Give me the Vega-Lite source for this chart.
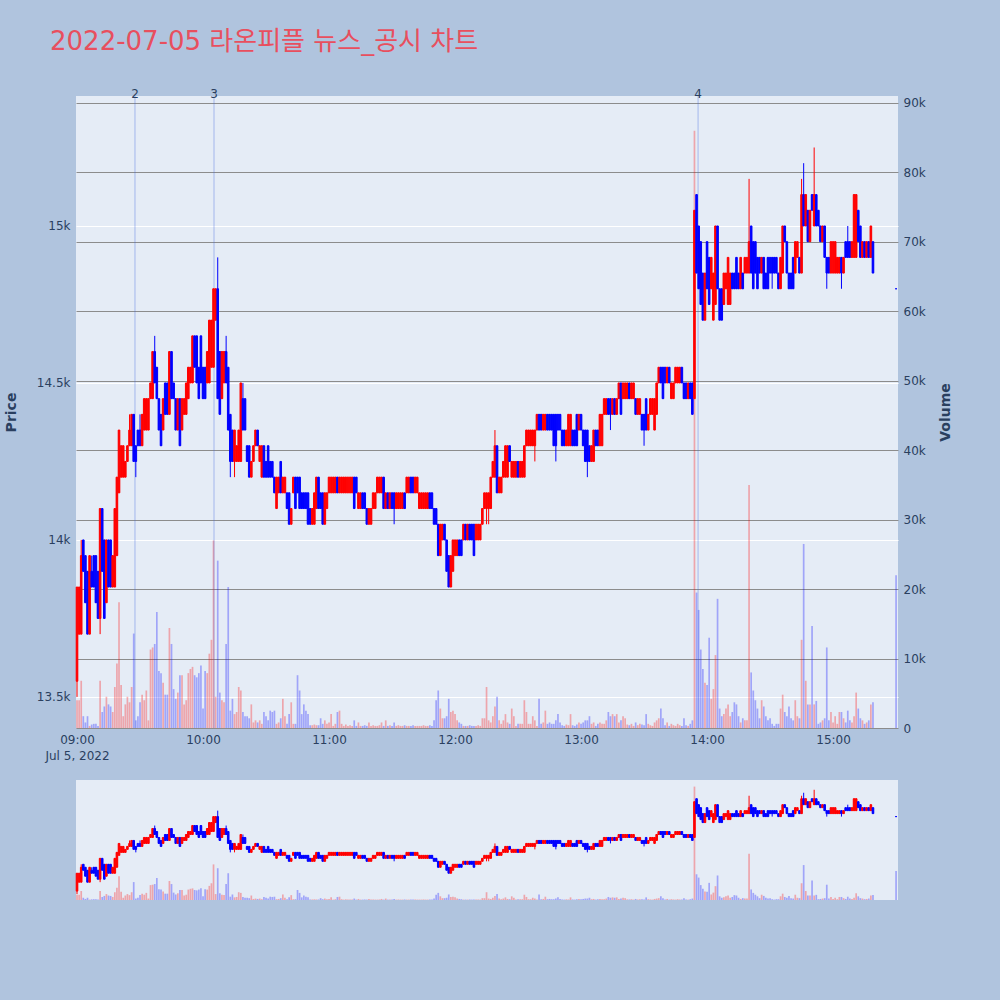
{
"$schema":"https://vega.github.io/schema/vega-lite/v6.json",
"background":"#b0c4de",
"padding":{"left":4,"top":29,"right":56,"bottom":108},
"title":{"text":"2022-07-05 라온피플 뉴스_공시 차트","anchor":"start","frame":"group","font":"DejaVu Sans, Noto Sans CJK KR","fontSize":26,"fontWeight":"normal","color":"#e84f5e","offset":33,"dx":-26},
"config":{"view":{"stroke":null},"axis":{"domain":false,"ticks":false,"labelFont":"DejaVu Sans","labelFontSize":12,"labelColor":"#2a3f5f","titleFont":"DejaVu Sans","titleFontSize":14,"titleFontWeight":"bold","titleColor":"#2a3f5f"}},
"datasets":{
"news":[{"t":"2022-07-05T09:27:36","label":"2"},{"t":"2022-07-05T10:05:14","label":"3"},{"t":"2022-07-05T13:55:43","label":"4"}],
"candles":[
{"t":"2022-07-05T09:00","o":13550,"h":13850,"l":13500,"c":13850,"v":4000},
{"t":"2022-07-05T09:01","o":13700,"h":13850,"l":13700,"c":13850,"v":4000},
{"t":"2022-07-05T09:02","o":13700,"h":14000,"l":13700,"c":13950,"v":6800},
{"t":"2022-07-05T09:03","o":14000,"h":14000,"l":13900,"c":13900,"v":1700},
{"t":"2022-07-05T09:04","o":13950,"h":13950,"l":13800,"c":13800,"v":800},
{"t":"2022-07-05T09:05","o":13900,"h":13900,"l":13700,"c":13700,"v":1700},
{"t":"2022-07-05T09:06","o":13700,"h":13950,"l":13700,"c":13950,"v":300},
{"t":"2022-07-05T09:07","o":13900,"h":13950,"l":13850,"c":13850,"v":500},
{"t":"2022-07-05T09:08","o":13950,"h":13950,"l":13850,"c":13850,"v":600},
{"t":"2022-07-05T09:09","o":13950,"h":13950,"l":13800,"c":13800,"v":600},
{"t":"2022-07-05T09:10","o":13900,"h":13900,"l":13750,"c":13750,"v":300},
{"t":"2022-07-05T09:11","o":13750,"h":14100,"l":13700,"c":14100,"v":6800},
{"t":"2022-07-05T09:12","o":14100,"h":14100,"l":13900,"c":13900,"v":2300},
{"t":"2022-07-05T09:13","o":14000,"h":14000,"l":13750,"c":13750,"v":3100},
{"t":"2022-07-05T09:14","o":13800,"h":14000,"l":13800,"c":14000,"v":4500},
{"t":"2022-07-05T09:15","o":14000,"h":14000,"l":13850,"c":13850,"v":3400},
{"t":"2022-07-05T09:16","o":14000,"h":14000,"l":13850,"c":13850,"v":3100},
{"t":"2022-07-05T09:17","o":13850,"h":13950,"l":13850,"c":13950,"v":2300},
{"t":"2022-07-05T09:18","o":13850,"h":14100,"l":13850,"c":14100,"v":5900},
{"t":"2022-07-05T09:19","o":13950,"h":14200,"l":13950,"c":14200,"v":9300},
{"t":"2022-07-05T09:20","o":14150,"h":14350,"l":14150,"c":14350,"v":18100},
{"t":"2022-07-05T09:21","o":14200,"h":14300,"l":14200,"c":14300,"v":6200},
{"t":"2022-07-05T09:22","o":14200,"h":14300,"l":14200,"c":14300,"v":1700},
{"t":"2022-07-05T09:23","o":14200,"h":14250,"l":14200,"c":14250,"v":3400},
{"t":"2022-07-05T09:24","o":14250,"h":14300,"l":14250,"c":14300,"v":4500},
{"t":"2022-07-05T09:25","o":14300,"h":14400,"l":14300,"c":14350,"v":3700},
{"t":"2022-07-05T09:26","o":14300,"h":14400,"l":14300,"c":14400,"v":5900},
{"t":"2022-07-05T09:27","o":14400,"h":14400,"l":14250,"c":14250,"v":13600},
{"t":"2022-07-05T09:28","o":14300,"h":14300,"l":14200,"c":14250,"v":1100},
{"t":"2022-07-05T09:29","o":14350,"h":14350,"l":14300,"c":14300,"v":1700},
{"t":"2022-07-05T09:30","o":14350,"h":14400,"l":14300,"c":14300,"v":3700},
{"t":"2022-07-05T09:31","o":14300,"h":14400,"l":14300,"c":14400,"v":4800},
{"t":"2022-07-05T09:32","o":14350,"h":14450,"l":14350,"c":14450,"v":4000},
{"t":"2022-07-05T09:33","o":14350,"h":14450,"l":14350,"c":14450,"v":5400},
{"t":"2022-07-05T09:34","o":14350,"h":14450,"l":14350,"c":14450,"v":1100},
{"t":"2022-07-05T09:35","o":14450,"h":14500,"l":14450,"c":14500,"v":11300},
{"t":"2022-07-05T09:36","o":14450,"h":14600,"l":14450,"c":14600,"v":11600},
{"t":"2022-07-05T09:37","o":14600,"h":14650,"l":14500,"c":14500,"v":12100},
{"t":"2022-07-05T09:38","o":14550,"h":14550,"l":14450,"c":14450,"v":16700},
{"t":"2022-07-05T09:39","o":14450,"h":14450,"l":14350,"c":14350,"v":8200},
{"t":"2022-07-05T09:40","o":14400,"h":14400,"l":14300,"c":14300,"v":7900},
{"t":"2022-07-05T09:41","o":14350,"h":14450,"l":14350,"c":14450,"v":6500},
{"t":"2022-07-05T09:42","o":14500,"h":14500,"l":14400,"c":14400,"v":4800},
{"t":"2022-07-05T09:43","o":14500,"h":14500,"l":14400,"c":14400,"v":4800},
{"t":"2022-07-05T09:44","o":14400,"h":14600,"l":14400,"c":14600,"v":14400},
{"t":"2022-07-05T09:45","o":14600,"h":14600,"l":14450,"c":14450,"v":12100},
{"t":"2022-07-05T09:46","o":14500,"h":14500,"l":14450,"c":14450,"v":5600},
{"t":"2022-07-05T09:47","o":14450,"h":14450,"l":14350,"c":14350,"v":4200},
{"t":"2022-07-05T09:48","o":14350,"h":14450,"l":14350,"c":14450,"v":5100},
{"t":"2022-07-05T09:49","o":14450,"h":14450,"l":14300,"c":14300,"v":7600},
{"t":"2022-07-05T09:50","o":14350,"h":14450,"l":14350,"c":14450,"v":7600},
{"t":"2022-07-05T09:51","o":14400,"h":14450,"l":14400,"c":14450,"v":3400},
{"t":"2022-07-05T09:52","o":14400,"h":14500,"l":14400,"c":14500,"v":4000},
{"t":"2022-07-05T09:53","o":14450,"h":14550,"l":14450,"c":14550,"v":7900},
{"t":"2022-07-05T09:54","o":14500,"h":14550,"l":14500,"c":14550,"v":8500},
{"t":"2022-07-05T09:55","o":14500,"h":14650,"l":14500,"c":14650,"v":8800},
{"t":"2022-07-05T09:56","o":14650,"h":14650,"l":14550,"c":14550,"v":7600},
{"t":"2022-07-05T09:57","o":14650,"h":14650,"l":14500,"c":14500,"v":7300},
{"t":"2022-07-05T09:58","o":14550,"h":14550,"l":14450,"c":14450,"v":7900},
{"t":"2022-07-05T09:59","o":14650,"h":14650,"l":14500,"c":14500,"v":9000},
{"t":"2022-07-05T10:00","o":14550,"h":14550,"l":14450,"c":14450,"v":2800},
{"t":"2022-07-05T10:01","o":14550,"h":14550,"l":14450,"c":14450,"v":8200},
{"t":"2022-07-05T10:02","o":14500,"h":14600,"l":14500,"c":14600,"v":7900},
{"t":"2022-07-05T10:03","o":14500,"h":14700,"l":14500,"c":14700,"v":10700},
{"t":"2022-07-05T10:04","o":14550,"h":14700,"l":14550,"c":14700,"v":12700},
{"t":"2022-07-05T10:05","o":14550,"h":14800,"l":14550,"c":14800,"v":27000},
{"t":"2022-07-05T10:06","o":14700,"h":14800,"l":14700,"c":14800,"v":4500},
{"t":"2022-07-05T10:07","o":14800,"h":14900,"l":14450,"c":14450,"v":24100},
{"t":"2022-07-05T10:08","o":14600,"h":14600,"l":14400,"c":14400,"v":5100},
{"t":"2022-07-05T10:09","o":14450,"h":14600,"l":14450,"c":14600,"v":4000},
{"t":"2022-07-05T10:10","o":14500,"h":14600,"l":14500,"c":14600,"v":3700},
{"t":"2022-07-05T10:11","o":14600,"h":14650,"l":14500,"c":14500,"v":12100},
{"t":"2022-07-05T10:12","o":14550,"h":14550,"l":14350,"c":14350,"v":20300},
{"t":"2022-07-05T10:13","o":14400,"h":14400,"l":14200,"c":14250,"v":2500},
{"t":"2022-07-05T10:14","o":14350,"h":14350,"l":14250,"c":14250,"v":4200},
{"t":"2022-07-05T10:15","o":14250,"h":14350,"l":14200,"c":14350,"v":2000},
{"t":"2022-07-05T10:16","o":14250,"h":14300,"l":14250,"c":14300,"v":2300},
{"t":"2022-07-05T10:17","o":14250,"h":14350,"l":14250,"c":14350,"v":5900},
{"t":"2022-07-05T10:18","o":14250,"h":14500,"l":14250,"c":14500,"v":5400},
{"t":"2022-07-05T10:19","o":14450,"h":14500,"l":14350,"c":14350,"v":2300},
{"t":"2022-07-05T10:20","o":14450,"h":14450,"l":14350,"c":14350,"v":1700},
{"t":"2022-07-05T10:21","o":14300,"h":14300,"l":14250,"c":14250,"v":1700},
{"t":"2022-07-05T10:22","o":14300,"h":14300,"l":14200,"c":14200,"v":1400},
{"t":"2022-07-05T10:23","o":14200,"h":14250,"l":14200,"c":14250,"v":3400},
{"t":"2022-07-05T10:24","o":14250,"h":14300,"l":14250,"c":14300,"v":800},
{"t":"2022-07-05T10:25","o":14300,"h":14350,"l":14300,"c":14350,"v":1100},
{"t":"2022-07-05T10:26","o":14350,"h":14350,"l":14300,"c":14300,"v":800},
{"t":"2022-07-05T10:27","o":14250,"h":14300,"l":14250,"c":14300,"v":1100},
{"t":"2022-07-05T10:28","o":14200,"h":14300,"l":14200,"c":14300,"v":600},
{"t":"2022-07-05T10:29","o":14300,"h":14300,"l":14200,"c":14200,"v":2300},
{"t":"2022-07-05T10:30","o":14250,"h":14250,"l":14200,"c":14200,"v":1700},
{"t":"2022-07-05T10:31","o":14300,"h":14300,"l":14200,"c":14200,"v":1100},
{"t":"2022-07-05T10:32","o":14250,"h":14250,"l":14200,"c":14200,"v":2500},
{"t":"2022-07-05T10:33","o":14250,"h":14250,"l":14200,"c":14200,"v":2300},
{"t":"2022-07-05T10:34","o":14200,"h":14200,"l":14150,"c":14150,"v":2500},
{"t":"2022-07-05T10:35","o":14100,"h":14200,"l":14100,"c":14200,"v":600},
{"t":"2022-07-05T10:36","o":14150,"h":14200,"l":14150,"c":14200,"v":800},
{"t":"2022-07-05T10:37","o":14250,"h":14250,"l":14150,"c":14150,"v":1400},
{"t":"2022-07-05T10:38","o":14150,"h":14200,"l":14150,"c":14200,"v":4200},
{"t":"2022-07-05T10:39","o":14150,"h":14200,"l":14150,"c":14200,"v":1700},
{"t":"2022-07-05T10:40","o":14150,"h":14150,"l":14100,"c":14100,"v":600},
{"t":"2022-07-05T10:41","o":14150,"h":14150,"l":14050,"c":14050,"v":2000},
{"t":"2022-07-05T10:42","o":14050,"h":14100,"l":14050,"c":14100,"v":3700},
{"t":"2022-07-05T10:43","o":14150,"h":14200,"l":14150,"c":14200,"v":600},
{"t":"2022-07-05T10:44","o":14200,"h":14200,"l":14100,"c":14100,"v":600},
{"t":"2022-07-05T10:45","o":14200,"h":14200,"l":14150,"c":14150,"v":7600},
{"t":"2022-07-05T10:46","o":14200,"h":14200,"l":14100,"c":14100,"v":5400},
{"t":"2022-07-05T10:47","o":14150,"h":14150,"l":14100,"c":14100,"v":2000},
{"t":"2022-07-05T10:48","o":14150,"h":14150,"l":14100,"c":14100,"v":3400},
{"t":"2022-07-05T10:49","o":14150,"h":14150,"l":14100,"c":14100,"v":2500},
{"t":"2022-07-05T10:50","o":14150,"h":14150,"l":14050,"c":14050,"v":2000},
{"t":"2022-07-05T10:51","o":14100,"h":14100,"l":14050,"c":14050,"v":400},
{"t":"2022-07-05T10:52","o":14050,"h":14100,"l":14050,"c":14100,"v":400},
{"t":"2022-07-05T10:53","o":14050,"h":14150,"l":14050,"c":14150,"v":500},
{"t":"2022-07-05T10:54","o":14100,"h":14200,"l":14100,"c":14200,"v":400},
{"t":"2022-07-05T10:55","o":14200,"h":14200,"l":14100,"c":14100,"v":400},
{"t":"2022-07-05T10:56","o":14150,"h":14150,"l":14100,"c":14100,"v":1400},
{"t":"2022-07-05T10:57","o":14150,"h":14150,"l":14050,"c":14050,"v":600},
{"t":"2022-07-05T10:58","o":14050,"h":14150,"l":14050,"c":14150,"v":1100},
{"t":"2022-07-05T10:59","o":14100,"h":14150,"l":14100,"c":14150,"v":600},
{"t":"2022-07-05T11:00","o":14150,"h":14200,"l":14150,"c":14200,"v":800},
{"t":"2022-07-05T11:01","o":14150,"h":14200,"l":14150,"c":14200,"v":2000},
{"t":"2022-07-05T11:02","o":14150,"h":14200,"l":14150,"c":14200,"v":300},
{"t":"2022-07-05T11:03","o":14150,"h":14200,"l":14150,"c":14200,"v":600},
{"t":"2022-07-05T11:04","o":14200,"h":14200,"l":14150,"c":14150,"v":2300},
{"t":"2022-07-05T11:05","o":14150,"h":14200,"l":14150,"c":14200,"v":2500},
{"t":"2022-07-05T11:06","o":14150,"h":14200,"l":14150,"c":14200,"v":600},
{"t":"2022-07-05T11:07","o":14150,"h":14200,"l":14150,"c":14200,"v":300},
{"t":"2022-07-05T11:08","o":14150,"h":14200,"l":14150,"c":14200,"v":500},
{"t":"2022-07-05T11:09","o":14150,"h":14200,"l":14150,"c":14200,"v":300},
{"t":"2022-07-05T11:10","o":14150,"h":14200,"l":14150,"c":14200,"v":400},
{"t":"2022-07-05T11:11","o":14150,"h":14200,"l":14150,"c":14200,"v":300},
{"t":"2022-07-05T11:12","o":14200,"h":14200,"l":14100,"c":14100,"v":1100},
{"t":"2022-07-05T11:13","o":14200,"h":14200,"l":14150,"c":14150,"v":300},
{"t":"2022-07-05T11:14","o":14100,"h":14150,"l":14100,"c":14150,"v":800},
{"t":"2022-07-05T11:15","o":14100,"h":14150,"l":14100,"c":14150,"v":300},
{"t":"2022-07-05T11:16","o":14150,"h":14150,"l":14100,"c":14100,"v":300},
{"t":"2022-07-05T11:17","o":14150,"h":14150,"l":14100,"c":14100,"v":400},
{"t":"2022-07-05T11:18","o":14100,"h":14100,"l":14050,"c":14050,"v":300},
{"t":"2022-07-05T11:19","o":14050,"h":14100,"l":14050,"c":14100,"v":800},
{"t":"2022-07-05T11:20","o":14050,"h":14100,"l":14050,"c":14100,"v":300},
{"t":"2022-07-05T11:21","o":14100,"h":14150,"l":14100,"c":14150,"v":400},
{"t":"2022-07-05T11:22","o":14100,"h":14150,"l":14100,"c":14150,"v":300},
{"t":"2022-07-05T11:23","o":14150,"h":14200,"l":14150,"c":14200,"v":300},
{"t":"2022-07-05T11:24","o":14150,"h":14200,"l":14150,"c":14200,"v":400},
{"t":"2022-07-05T11:25","o":14150,"h":14200,"l":14150,"c":14200,"v":800},
{"t":"2022-07-05T11:26","o":14200,"h":14200,"l":14100,"c":14100,"v":300},
{"t":"2022-07-05T11:27","o":14100,"h":14150,"l":14100,"c":14150,"v":1100},
{"t":"2022-07-05T11:28","o":14150,"h":14150,"l":14100,"c":14100,"v":300},
{"t":"2022-07-05T11:29","o":14100,"h":14150,"l":14100,"c":14150,"v":400},
{"t":"2022-07-05T11:30","o":14150,"h":14150,"l":14100,"c":14100,"v":300},
{"t":"2022-07-05T11:31","o":14150,"h":14150,"l":14050,"c":14100,"v":800},
{"t":"2022-07-05T11:32","o":14100,"h":14150,"l":14100,"c":14150,"v":300},
{"t":"2022-07-05T11:33","o":14100,"h":14150,"l":14100,"c":14150,"v":400},
{"t":"2022-07-05T11:34","o":14100,"h":14150,"l":14100,"c":14150,"v":300},
{"t":"2022-07-05T11:35","o":14100,"h":14150,"l":14100,"c":14150,"v":300},
{"t":"2022-07-05T11:36","o":14150,"h":14150,"l":14100,"c":14100,"v":400},
{"t":"2022-07-05T11:37","o":14150,"h":14200,"l":14150,"c":14200,"v":300},
{"t":"2022-07-05T11:38","o":14150,"h":14200,"l":14150,"c":14200,"v":300},
{"t":"2022-07-05T11:39","o":14200,"h":14200,"l":14150,"c":14150,"v":300},
{"t":"2022-07-05T11:40","o":14200,"h":14200,"l":14150,"c":14150,"v":400},
{"t":"2022-07-05T11:41","o":14150,"h":14200,"l":14150,"c":14200,"v":300},
{"t":"2022-07-05T11:42","o":14150,"h":14200,"l":14150,"c":14200,"v":300},
{"t":"2022-07-05T11:43","o":14100,"h":14150,"l":14100,"c":14150,"v":300},
{"t":"2022-07-05T11:44","o":14100,"h":14150,"l":14100,"c":14150,"v":300},
{"t":"2022-07-05T11:45","o":14100,"h":14150,"l":14100,"c":14150,"v":400},
{"t":"2022-07-05T11:46","o":14100,"h":14150,"l":14100,"c":14150,"v":300},
{"t":"2022-07-05T11:47","o":14100,"h":14150,"l":14100,"c":14150,"v":300},
{"t":"2022-07-05T11:48","o":14150,"h":14150,"l":14100,"c":14100,"v":400},
{"t":"2022-07-05T11:49","o":14150,"h":14150,"l":14100,"c":14100,"v":300},
{"t":"2022-07-05T11:50","o":14100,"h":14100,"l":14050,"c":14050,"v":1100},
{"t":"2022-07-05T11:51","o":14100,"h":14100,"l":14050,"c":14050,"v":4000},
{"t":"2022-07-05T11:52","o":14050,"h":14050,"l":13950,"c":13950,"v":5400},
{"t":"2022-07-05T11:53","o":13950,"h":14050,"l":13950,"c":14050,"v":2800},
{"t":"2022-07-05T11:54","o":14000,"h":14050,"l":14000,"c":14050,"v":1400},
{"t":"2022-07-05T11:55","o":14050,"h":14050,"l":14000,"c":14000,"v":1400},
{"t":"2022-07-05T11:56","o":14000,"h":14000,"l":13900,"c":13900,"v":1700},
{"t":"2022-07-05T11:57","o":13950,"h":13950,"l":13850,"c":13850,"v":4200},
{"t":"2022-07-05T11:58","o":13850,"h":13950,"l":13850,"c":13950,"v":2300},
{"t":"2022-07-05T11:59","o":13900,"h":14000,"l":13900,"c":14000,"v":2500},
{"t":"2022-07-05T12:00","o":13950,"h":14000,"l":13950,"c":14000,"v":2000},
{"t":"2022-07-05T12:01","o":13950,"h":14000,"l":13950,"c":14000,"v":1100},
{"t":"2022-07-05T12:02","o":14000,"h":14000,"l":13950,"c":13950,"v":800},
{"t":"2022-07-05T12:03","o":14000,"h":14000,"l":13950,"c":13950,"v":600},
{"t":"2022-07-05T12:04","o":14000,"h":14050,"l":14000,"c":14050,"v":300},
{"t":"2022-07-05T12:05","o":14050,"h":14050,"l":14000,"c":14000,"v":300},
{"t":"2022-07-05T12:06","o":14000,"h":14050,"l":14000,"c":14050,"v":300},
{"t":"2022-07-05T12:07","o":14050,"h":14050,"l":14000,"c":14000,"v":400},
{"t":"2022-07-05T12:08","o":14050,"h":14050,"l":14000,"c":14000,"v":300},
{"t":"2022-07-05T12:09","o":14050,"h":14050,"l":13950,"c":13950,"v":300},
{"t":"2022-07-05T12:10","o":14000,"h":14050,"l":14000,"c":14050,"v":300},
{"t":"2022-07-05T12:11","o":14000,"h":14050,"l":14000,"c":14050,"v":400},
{"t":"2022-07-05T12:12","o":14000,"h":14050,"l":14000,"c":14050,"v":300},
{"t":"2022-07-05T12:13","o":14050,"h":14100,"l":14050,"c":14100,"v":1400},
{"t":"2022-07-05T12:14","o":14100,"h":14150,"l":14100,"c":14150,"v":1400},
{"t":"2022-07-05T12:15","o":14100,"h":14150,"l":14050,"c":14150,"v":5900},
{"t":"2022-07-05T12:16","o":14100,"h":14150,"l":14050,"c":14150,"v":1100},
{"t":"2022-07-05T12:17","o":14100,"h":14200,"l":14100,"c":14200,"v":800},
{"t":"2022-07-05T12:18","o":14200,"h":14250,"l":14200,"c":14250,"v":1700},
{"t":"2022-07-05T12:19","o":14200,"h":14350,"l":14200,"c":14300,"v":3100},
{"t":"2022-07-05T12:20","o":14300,"h":14300,"l":14150,"c":14150,"v":4500},
{"t":"2022-07-05T12:21","o":14150,"h":14200,"l":14150,"c":14200,"v":1100},
{"t":"2022-07-05T12:22","o":14150,"h":14200,"l":14150,"c":14200,"v":600},
{"t":"2022-07-05T12:23","o":14200,"h":14250,"l":14200,"c":14250,"v":1100},
{"t":"2022-07-05T12:24","o":14200,"h":14300,"l":14200,"c":14300,"v":2000},
{"t":"2022-07-05T12:25","o":14200,"h":14300,"l":14200,"c":14300,"v":800},
{"t":"2022-07-05T12:26","o":14300,"h":14300,"l":14250,"c":14250,"v":600},
{"t":"2022-07-05T12:27","o":14200,"h":14250,"l":14200,"c":14250,"v":2800},
{"t":"2022-07-05T12:28","o":14200,"h":14250,"l":14200,"c":14250,"v":1700},
{"t":"2022-07-05T12:29","o":14200,"h":14250,"l":14200,"c":14250,"v":300},
{"t":"2022-07-05T12:30","o":14250,"h":14250,"l":14200,"c":14200,"v":600},
{"t":"2022-07-05T12:31","o":14200,"h":14250,"l":14200,"c":14250,"v":600},
{"t":"2022-07-05T12:32","o":14200,"h":14250,"l":14200,"c":14250,"v":600},
{"t":"2022-07-05T12:33","o":14200,"h":14300,"l":14200,"c":14300,"v":4000},
{"t":"2022-07-05T12:34","o":14300,"h":14350,"l":14300,"c":14350,"v":2300},
{"t":"2022-07-05T12:35","o":14300,"h":14350,"l":14300,"c":14350,"v":600},
{"t":"2022-07-05T12:36","o":14300,"h":14350,"l":14300,"c":14350,"v":600},
{"t":"2022-07-05T12:37","o":14300,"h":14350,"l":14300,"c":14350,"v":1700},
{"t":"2022-07-05T12:38","o":14300,"h":14350,"l":14250,"c":14350,"v":1100},
{"t":"2022-07-05T12:39","o":14350,"h":14400,"l":14350,"c":14400,"v":300},
{"t":"2022-07-05T12:40","o":14400,"h":14400,"l":14350,"c":14350,"v":4200},
{"t":"2022-07-05T12:41","o":14400,"h":14400,"l":14350,"c":14350,"v":600},
{"t":"2022-07-05T12:42","o":14350,"h":14400,"l":14350,"c":14400,"v":800},
{"t":"2022-07-05T12:43","o":14350,"h":14400,"l":14350,"c":14400,"v":2500},
{"t":"2022-07-05T12:44","o":14400,"h":14400,"l":14350,"c":14350,"v":600},
{"t":"2022-07-05T12:45","o":14400,"h":14400,"l":14350,"c":14350,"v":800},
{"t":"2022-07-05T12:46","o":14400,"h":14400,"l":14350,"c":14350,"v":600},
{"t":"2022-07-05T12:47","o":14400,"h":14400,"l":14300,"c":14300,"v":600},
{"t":"2022-07-05T12:48","o":14400,"h":14400,"l":14250,"c":14300,"v":1100},
{"t":"2022-07-05T12:49","o":14400,"h":14400,"l":14350,"c":14350,"v":2000},
{"t":"2022-07-05T12:50","o":14400,"h":14400,"l":14350,"c":14350,"v":800},
{"t":"2022-07-05T12:51","o":14350,"h":14350,"l":14300,"c":14300,"v":400},
{"t":"2022-07-05T12:52","o":14350,"h":14350,"l":14300,"c":14300,"v":300},
{"t":"2022-07-05T12:53","o":14300,"h":14350,"l":14300,"c":14350,"v":500},
{"t":"2022-07-05T12:54","o":14300,"h":14400,"l":14300,"c":14400,"v":400},
{"t":"2022-07-05T12:55","o":14300,"h":14400,"l":14300,"c":14400,"v":2000},
{"t":"2022-07-05T12:56","o":14350,"h":14350,"l":14300,"c":14300,"v":400},
{"t":"2022-07-05T12:57","o":14350,"h":14350,"l":14300,"c":14300,"v":300},
{"t":"2022-07-05T12:58","o":14400,"h":14400,"l":14300,"c":14300,"v":500},
{"t":"2022-07-05T12:59","o":14350,"h":14400,"l":14350,"c":14400,"v":800},
{"t":"2022-07-05T13:00","o":14400,"h":14400,"l":14350,"c":14350,"v":600},
{"t":"2022-07-05T13:01","o":14350,"h":14350,"l":14300,"c":14300,"v":800},
{"t":"2022-07-05T13:02","o":14350,"h":14350,"l":14250,"c":14250,"v":1100},
{"t":"2022-07-05T13:03","o":14350,"h":14350,"l":14200,"c":14250,"v":1100},
{"t":"2022-07-05T13:04","o":14300,"h":14300,"l":14250,"c":14250,"v":1700},
{"t":"2022-07-05T13:05","o":14250,"h":14300,"l":14250,"c":14300,"v":600},
{"t":"2022-07-05T13:06","o":14250,"h":14350,"l":14250,"c":14350,"v":800},
{"t":"2022-07-05T13:07","o":14350,"h":14350,"l":14300,"c":14300,"v":300},
{"t":"2022-07-05T13:08","o":14350,"h":14350,"l":14300,"c":14300,"v":600},
{"t":"2022-07-05T13:09","o":14300,"h":14400,"l":14300,"c":14400,"v":800},
{"t":"2022-07-05T13:10","o":14300,"h":14400,"l":14300,"c":14400,"v":600},
{"t":"2022-07-05T13:11","o":14400,"h":14450,"l":14400,"c":14450,"v":600},
{"t":"2022-07-05T13:12","o":14400,"h":14450,"l":14400,"c":14450,"v":1100},
{"t":"2022-07-05T13:13","o":14450,"h":14450,"l":14400,"c":14400,"v":2300},
{"t":"2022-07-05T13:14","o":14450,"h":14450,"l":14350,"c":14400,"v":1700},
{"t":"2022-07-05T13:15","o":14400,"h":14450,"l":14400,"c":14450,"v":2000},
{"t":"2022-07-05T13:16","o":14450,"h":14450,"l":14400,"c":14400,"v":1700},
{"t":"2022-07-05T13:17","o":14400,"h":14450,"l":14400,"c":14450,"v":2000},
{"t":"2022-07-05T13:18","o":14450,"h":14500,"l":14450,"c":14500,"v":800},
{"t":"2022-07-05T13:19","o":14500,"h":14500,"l":14400,"c":14400,"v":1100},
{"t":"2022-07-05T13:20","o":14450,"h":14500,"l":14450,"c":14500,"v":1700},
{"t":"2022-07-05T13:21","o":14450,"h":14500,"l":14450,"c":14500,"v":1400},
{"t":"2022-07-05T13:22","o":14450,"h":14500,"l":14450,"c":14500,"v":500},
{"t":"2022-07-05T13:23","o":14500,"h":14500,"l":14450,"c":14450,"v":400},
{"t":"2022-07-05T13:24","o":14450,"h":14500,"l":14450,"c":14500,"v":600},
{"t":"2022-07-05T13:25","o":14450,"h":14500,"l":14450,"c":14500,"v":300},
{"t":"2022-07-05T13:26","o":14450,"h":14450,"l":14400,"c":14400,"v":800},
{"t":"2022-07-05T13:27","o":14400,"h":14450,"l":14400,"c":14450,"v":400},
{"t":"2022-07-05T13:28","o":14400,"h":14450,"l":14400,"c":14450,"v":600},
{"t":"2022-07-05T13:29","o":14400,"h":14400,"l":14350,"c":14350,"v":500},
{"t":"2022-07-05T13:30","o":14400,"h":14400,"l":14300,"c":14350,"v":400},
{"t":"2022-07-05T13:31","o":14450,"h":14450,"l":14350,"c":14350,"v":2000},
{"t":"2022-07-05T13:32","o":14350,"h":14400,"l":14350,"c":14400,"v":600},
{"t":"2022-07-05T13:33","o":14400,"h":14450,"l":14400,"c":14450,"v":400},
{"t":"2022-07-05T13:34","o":14400,"h":14450,"l":14400,"c":14450,"v":300},
{"t":"2022-07-05T13:35","o":14350,"h":14450,"l":14350,"c":14450,"v":800},
{"t":"2022-07-05T13:36","o":14400,"h":14500,"l":14400,"c":14500,"v":1100},
{"t":"2022-07-05T13:37","o":14500,"h":14550,"l":14500,"c":14550,"v":1400},
{"t":"2022-07-05T13:38","o":14550,"h":14550,"l":14500,"c":14500,"v":2800},
{"t":"2022-07-05T13:39","o":14550,"h":14550,"l":14450,"c":14450,"v":1400},
{"t":"2022-07-05T13:40","o":14550,"h":14550,"l":14500,"c":14500,"v":400},
{"t":"2022-07-05T13:41","o":14500,"h":14550,"l":14500,"c":14550,"v":800},
{"t":"2022-07-05T13:42","o":14550,"h":14550,"l":14500,"c":14500,"v":300},
{"t":"2022-07-05T13:43","o":14450,"h":14500,"l":14450,"c":14500,"v":600},
{"t":"2022-07-05T13:44","o":14450,"h":14500,"l":14450,"c":14500,"v":400},
{"t":"2022-07-05T13:45","o":14500,"h":14550,"l":14500,"c":14550,"v":300},
{"t":"2022-07-05T13:46","o":14500,"h":14550,"l":14500,"c":14550,"v":600},
{"t":"2022-07-05T13:47","o":14500,"h":14550,"l":14500,"c":14550,"v":400},
{"t":"2022-07-05T13:48","o":14550,"h":14550,"l":14500,"c":14500,"v":300},
{"t":"2022-07-05T13:49","o":14500,"h":14500,"l":14450,"c":14450,"v":1400},
{"t":"2022-07-05T13:50","o":14500,"h":14500,"l":14450,"c":14450,"v":400},
{"t":"2022-07-05T13:51","o":14450,"h":14500,"l":14450,"c":14500,"v":300},
{"t":"2022-07-05T13:52","o":14500,"h":14500,"l":14450,"c":14450,"v":600},
{"t":"2022-07-05T13:53","o":14500,"h":14500,"l":14400,"c":14400,"v":1100},
{"t":"2022-07-05T13:54","o":14450,"h":15050,"l":14450,"c":15050,"v":86000},
{"t":"2022-07-05T13:55","o":15100,"h":15100,"l":14850,"c":14850,"v":19500},
{"t":"2022-07-05T13:56","o":15000,"h":15000,"l":14800,"c":14800,"v":17000},
{"t":"2022-07-05T13:57","o":14950,"h":14950,"l":14750,"c":14750,"v":11300},
{"t":"2022-07-05T13:58","o":14850,"h":14850,"l":14700,"c":14700,"v":8500},
{"t":"2022-07-05T13:59","o":14700,"h":14850,"l":14700,"c":14850,"v":6500},
{"t":"2022-07-05T14:00","o":14950,"h":14950,"l":14800,"c":14800,"v":6200},
{"t":"2022-07-05T14:01","o":14900,"h":14900,"l":14750,"c":14750,"v":13000},
{"t":"2022-07-05T14:02","o":14800,"h":14900,"l":14800,"c":14900,"v":4200},
{"t":"2022-07-05T14:03","o":14700,"h":14850,"l":14700,"c":14850,"v":5600},
{"t":"2022-07-05T14:04","o":14750,"h":15000,"l":14750,"c":15000,"v":10500},
{"t":"2022-07-05T14:05","o":15000,"h":15000,"l":14800,"c":14800,"v":18600},
{"t":"2022-07-05T14:06","o":14800,"h":14800,"l":14700,"c":14700,"v":2800},
{"t":"2022-07-05T14:07","o":14800,"h":14800,"l":14700,"c":14700,"v":1700},
{"t":"2022-07-05T14:08","o":14750,"h":14850,"l":14750,"c":14850,"v":2000},
{"t":"2022-07-05T14:09","o":14800,"h":14850,"l":14800,"c":14850,"v":2800},
{"t":"2022-07-05T14:10","o":14750,"h":14900,"l":14750,"c":14900,"v":3400},
{"t":"2022-07-05T14:11","o":14750,"h":14850,"l":14750,"c":14850,"v":1700},
{"t":"2022-07-05T14:12","o":14850,"h":14850,"l":14800,"c":14800,"v":2300},
{"t":"2022-07-05T14:13","o":14850,"h":14850,"l":14800,"c":14800,"v":3700},
{"t":"2022-07-05T14:14","o":14900,"h":14900,"l":14800,"c":14800,"v":3400},
{"t":"2022-07-05T14:15","o":14850,"h":14850,"l":14800,"c":14800,"v":1700},
{"t":"2022-07-05T14:16","o":14800,"h":14900,"l":14800,"c":14900,"v":800},
{"t":"2022-07-05T14:17","o":14850,"h":14850,"l":14800,"c":14800,"v":1400},
{"t":"2022-07-05T14:18","o":14850,"h":14900,"l":14850,"c":14900,"v":1100},
{"t":"2022-07-05T14:19","o":14850,"h":14900,"l":14850,"c":14900,"v":1100},
{"t":"2022-07-05T14:20","o":14850,"h":15150,"l":14850,"c":14950,"v":35000},
{"t":"2022-07-05T14:21","o":15000,"h":15000,"l":14850,"c":14850,"v":8000},
{"t":"2022-07-05T14:22","o":14950,"h":14950,"l":14800,"c":14800,"v":5400},
{"t":"2022-07-05T14:23","o":14950,"h":14950,"l":14850,"c":14850,"v":4000},
{"t":"2022-07-05T14:24","o":14900,"h":14900,"l":14800,"c":14800,"v":2800},
{"t":"2022-07-05T14:25","o":14900,"h":14900,"l":14850,"c":14850,"v":1400},
{"t":"2022-07-05T14:26","o":14850,"h":14900,"l":14850,"c":14900,"v":4000},
{"t":"2022-07-05T14:27","o":14900,"h":14900,"l":14800,"c":14800,"v":3100},
{"t":"2022-07-05T14:28","o":14850,"h":14850,"l":14800,"c":14800,"v":1700},
{"t":"2022-07-05T14:29","o":14900,"h":14900,"l":14800,"c":14800,"v":1100},
{"t":"2022-07-05T14:30","o":14900,"h":14900,"l":14850,"c":14850,"v":1400},
{"t":"2022-07-05T14:31","o":14900,"h":14900,"l":14800,"c":14850,"v":600},
{"t":"2022-07-05T14:32","o":14900,"h":14900,"l":14850,"c":14850,"v":300},
{"t":"2022-07-05T14:33","o":14900,"h":14900,"l":14850,"c":14850,"v":600},
{"t":"2022-07-05T14:34","o":14850,"h":14850,"l":14800,"c":14800,"v":600},
{"t":"2022-07-05T14:35","o":14800,"h":14900,"l":14800,"c":14900,"v":2800},
{"t":"2022-07-05T14:36","o":14850,"h":15000,"l":14850,"c":15000,"v":4800},
{"t":"2022-07-05T14:37","o":15000,"h":15000,"l":14950,"c":14950,"v":2300},
{"t":"2022-07-05T14:38","o":14950,"h":14950,"l":14850,"c":14850,"v":1700},
{"t":"2022-07-05T14:39","o":14850,"h":14850,"l":14800,"c":14800,"v":3100},
{"t":"2022-07-05T14:40","o":14850,"h":14850,"l":14800,"c":14800,"v":1400},
{"t":"2022-07-05T14:41","o":14900,"h":14900,"l":14800,"c":14800,"v":1100},
{"t":"2022-07-05T14:42","o":14850,"h":14950,"l":14850,"c":14950,"v":4000},
{"t":"2022-07-05T14:43","o":14900,"h":14950,"l":14900,"c":14950,"v":1700},
{"t":"2022-07-05T14:44","o":14900,"h":14900,"l":14850,"c":14850,"v":1400},
{"t":"2022-07-05T14:45","o":14850,"h":15150,"l":14850,"c":15100,"v":12700},
{"t":"2022-07-05T14:46","o":15100,"h":15200,"l":15000,"c":15000,"v":26500},
{"t":"2022-07-05T14:47","o":15000,"h":15100,"l":15000,"c":15100,"v":6800},
{"t":"2022-07-05T14:48","o":15050,"h":15050,"l":14950,"c":14950,"v":3400},
{"t":"2022-07-05T14:49","o":14950,"h":15050,"l":14950,"c":15050,"v":3400},
{"t":"2022-07-05T14:50","o":15100,"h":15100,"l":15050,"c":15050,"v":14700},
{"t":"2022-07-05T14:51","o":15000,"h":15250,"l":15000,"c":15100,"v":3400},
{"t":"2022-07-05T14:52","o":15100,"h":15100,"l":15000,"c":15000,"v":3900},
{"t":"2022-07-05T14:53","o":15050,"h":15050,"l":15000,"c":15000,"v":600},
{"t":"2022-07-05T14:54","o":15000,"h":15000,"l":14950,"c":14950,"v":800},
{"t":"2022-07-05T14:55","o":14950,"h":15000,"l":14950,"c":15000,"v":1100},
{"t":"2022-07-05T14:56","o":15000,"h":15000,"l":14900,"c":14900,"v":1400},
{"t":"2022-07-05T14:57","o":14900,"h":14900,"l":14800,"c":14850,"v":11600},
{"t":"2022-07-05T14:58","o":14900,"h":14900,"l":14850,"c":14850,"v":1100},
{"t":"2022-07-05T14:59","o":14850,"h":14950,"l":14850,"c":14950,"v":2300},
{"t":"2022-07-05T15:00","o":14850,"h":14950,"l":14850,"c":14950,"v":800},
{"t":"2022-07-05T15:01","o":14850,"h":14950,"l":14850,"c":14950,"v":1700},
{"t":"2022-07-05T15:02","o":14850,"h":14900,"l":14850,"c":14900,"v":600},
{"t":"2022-07-05T15:03","o":14850,"h":14900,"l":14850,"c":14900,"v":2300},
{"t":"2022-07-05T15:04","o":14900,"h":14900,"l":14800,"c":14850,"v":2300},
{"t":"2022-07-05T15:05","o":14850,"h":14900,"l":14850,"c":14900,"v":1400},
{"t":"2022-07-05T15:06","o":14950,"h":14950,"l":14900,"c":14900,"v":800},
{"t":"2022-07-05T15:07","o":14950,"h":15000,"l":14900,"c":14900,"v":2500},
{"t":"2022-07-05T15:08","o":14950,"h":14950,"l":14900,"c":14900,"v":1100},
{"t":"2022-07-05T15:09","o":14900,"h":14950,"l":14900,"c":14950,"v":800},
{"t":"2022-07-05T15:10","o":14900,"h":15100,"l":14900,"c":15100,"v":1700},
{"t":"2022-07-05T15:11","o":14900,"h":15100,"l":14900,"c":15100,"v":5100},
{"t":"2022-07-05T15:12","o":15050,"h":15050,"l":14950,"c":14950,"v":2800},
{"t":"2022-07-05T15:13","o":15000,"h":15000,"l":14900,"c":14900,"v":1400},
{"t":"2022-07-05T15:14","o":14900,"h":14950,"l":14900,"c":14950,"v":1100},
{"t":"2022-07-05T15:15","o":14950,"h":14950,"l":14900,"c":14900,"v":600},
{"t":"2022-07-05T15:16","o":14900,"h":14950,"l":14900,"c":14950,"v":800},
{"t":"2022-07-05T15:17","o":14950,"h":14950,"l":14900,"c":14900,"v":1100},
{"t":"2022-07-05T15:18","o":14900,"h":15000,"l":14900,"c":15000,"v":3400},
{"t":"2022-07-05T15:19","o":14950,"h":14950,"l":14850,"c":14850,"v":3700},
{"t":"2022-07-05T15:30","o":14800,"h":14800,"l":14800,"c":14800,"v":22000}
]},
"bounds":"flush",
"spacing":52,
"resolve":{"scale":{"x":"independent","y":"independent"}},
"vconcat":[
{
"width":822,"height":632,
"view":{"fill":"#e5ecf6","stroke":null},
"encoding":{"x":{"field":"t","type":"temporal","title":null,
  "scale":{"padding":0,"nice":false,"domain":[{"year":2022,"month":7,"date":5,"hours":8,"minutes":59,"seconds":31},{"year":2022,"month":7,"date":5,"hours":15,"minutes":30,"seconds":55}]},
  "axis":{"grid":false,"labelPadding":6,"labelLineHeight":16,"labelBaseline":"top",
   "values":[{"year":2022,"month":7,"date":5,"hours":9},{"year":2022,"month":7,"date":5,"hours":10},{"year":2022,"month":7,"date":5,"hours":11},{"year":2022,"month":7,"date":5,"hours":12},{"year":2022,"month":7,"date":5,"hours":13},{"year":2022,"month":7,"date":5,"hours":14},{"year":2022,"month":7,"date":5,"hours":15}],
   "labelExpr":"hours(datum.value) == 9 ? ['09:00', 'Jul 5, 2022'] : timeFormat(datum.value, '%H:%M')"}}},
"layer":[
 {"data":{"name":"candles"},"mark":{"type":"bar","size":1.7,"opacity":0.3},
  "encoding":{"y":{"field":"v","type":"quantitative","scale":{"domain":[0,91000],"nice":false},
    "axis":{"orient":"right","title":"Volume","values":[0,10000,20000,30000,40000,50000,60000,70000,80000,90000],"labelExpr":"datum.value == 0 ? '0' : format(datum.value, '~s')","grid":true,"gridColor":"#8c8c8c","gridWidth":1,"labelPadding":5,"titlePadding":13,"titleAngle":270,"titleBaseline":"top"}},
   "color":{"condition":{"test":"datum.c > datum.o","value":"#ff0000"},"value":"#0000ff"}}},
 {"layer":[
  {"data":{"name":"news"},"mark":{"type":"rule","color":"#4169e1","opacity":0.4,"strokeWidth":1},"encoding":{}},
  {"data":{"name":"candles"},"mark":{"type":"rule","strokeWidth":1},
   "encoding":{"y":{"field":"l","type":"quantitative","scale":{"domain":[13401,15414],"nice":false,"zero":false},"axis":{"orient":"left","title":"Price","values":[13500,14000,14500,15000],"format":"~s","grid":true,"gridColor":"#ffffff","gridWidth":1,"labelPadding":6,"titlePadding":18}},
    "y2":{"field":"h"},
    "color":{"condition":{"test":"datum.c > datum.o","value":"#ff0000"},"value":"#0000ff"}}},
  {"data":{"name":"candles"},"mark":{"type":"bar","size":1.6,"strokeWidth":1},
   "encoding":{"y":{"field":"o","type":"quantitative","scale":{"domain":[13401,15414],"nice":false,"zero":false},"axis":{"orient":"left","title":"Price","values":[13500,14000,14500,15000],"format":"~s","grid":true,"gridColor":"#ffffff","gridWidth":1,"labelPadding":6,"titlePadding":18}},
    "y2":{"field":"c"},
    "color":{"condition":{"test":"datum.c > datum.o","value":"#ff0000"},"value":"#0000ff"},
    "stroke":{"condition":{"test":"datum.c > datum.o","value":"#ff0000"},"value":"#0000ff"}}},
  {"data":{"name":"news"},"mark":{"type":"text","baseline":"bottom","dy":5,"fontSize":12,"font":"DejaVu Sans","color":"#2a3f5f"},
   "encoding":{"y":{"datum":15414,"type":"quantitative","scale":{"domain":[13401,15414],"nice":false,"zero":false},"axis":{"orient":"left","title":"Price","values":[13500,14000,14500,15000],"format":"~s","grid":true,"gridColor":"#ffffff","gridWidth":1,"labelPadding":6,"titlePadding":18}},"text":{"field":"label"}}}
 ]}
],
"resolve":{"scale":{"y":"independent"}}
},
{
"width":822,"height":120,
"view":{"fill":"#e5ecf6","stroke":null},
"data":{"name":"candles"},
"encoding":{"x":{"field":"t","type":"temporal","axis":null,
  "scale":{"padding":0,"nice":false,"domain":[{"year":2022,"month":7,"date":5,"hours":8,"minutes":59,"seconds":31},{"year":2022,"month":7,"date":5,"hours":15,"minutes":30,"seconds":55}]}}},
"layer":[
 {"mark":{"type":"bar","size":1.7,"opacity":0.3},
  "encoding":{"y":{"field":"v","type":"quantitative","scale":{"domain":[0,91000],"nice":false},"axis":null},
   "color":{"condition":{"test":"datum.c > datum.o","value":"#ff0000"},"value":"#0000ff"}}},
 {"layer":[
  {"mark":{"type":"rule","strokeWidth":1},
   "encoding":{"y":{"field":"l","type":"quantitative","scale":{"domain":[13401,15414],"nice":false,"zero":false},"axis":null},"y2":{"field":"h"},
    "color":{"condition":{"test":"datum.c > datum.o","value":"#ff0000"},"value":"#0000ff"}}},
  {"mark":{"type":"bar","size":1.6,"strokeWidth":1},
   "encoding":{"y":{"field":"o","type":"quantitative","scale":{"domain":[13401,15414],"nice":false,"zero":false},"axis":null},"y2":{"field":"c"},
    "color":{"condition":{"test":"datum.c > datum.o","value":"#ff0000"},"value":"#0000ff"},
    "stroke":{"condition":{"test":"datum.c > datum.o","value":"#ff0000"},"value":"#0000ff"}}}
 ]}
],
"resolve":{"scale":{"y":"independent"}}
}
]
}
